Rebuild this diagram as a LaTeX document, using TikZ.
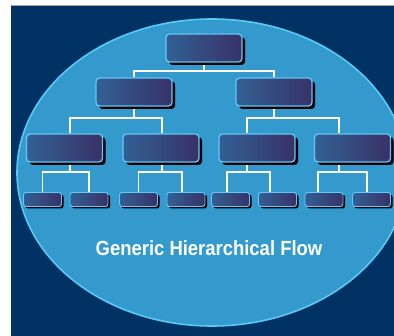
\documentclass[tikz,border=0pt]{standalone}
\usepackage{fontspec}
\setmainfont{Liberation Sans}
\usetikzlibrary{shadows,backgrounds}
\definecolor{navy}{RGB}{0,50,100}
\definecolor{ellfill}{RGB}{52,153,204}
\definecolor{ellline}{RGB}{88,202,245}
\definecolor{boxl}{RGB}{50,96,148}
\definecolor{boxr}{RGB}{56,50,104}
\definecolor{boxline}{RGB}{98,200,245}
\tikzset{
  bigbox/.style={rounded corners=3.5pt, draw=boxline, line width=1.3pt,
    left color=boxl, right color=boxr, minimum width=76pt, minimum height=28pt,
    inner sep=0pt, drop shadow={shadow xshift=3pt, shadow yshift=-3pt, fill=black, opacity=1}},
  smallbox/.style={rounded corners=2.5pt, draw=boxline, line width=0.9pt,
    left color=boxl, right color=boxr, minimum width=38pt, minimum height=14pt,
    inner sep=0pt, drop shadow={shadow xshift=2pt, shadow yshift=-2pt, fill=black, opacity=1}},
  link/.style={draw=white, line width=1.3pt},
}
\begin{document}
\begin{tikzpicture}[x=1pt,y=-1pt]
\useasboundingbox (0,0) rectangle (394,336);
% boxes
\node[bigbox] (n0) at (204,48) {};
\node[bigbox] (n10) at (134,92) {};
\node[bigbox] (n11) at (274,92) {};
\node[bigbox] (n20) at (64.5,148) {};
\node[bigbox] (n21) at (161,148) {};
\node[bigbox] (n22) at (257,148) {};
\node[bigbox] (n23) at (352.5,148) {};
\node[smallbox] (n30) at (42.5,199.5) {};
\node[smallbox] (n31) at (89,199.5) {};
\node[smallbox] (n32) at (138.5,199.5) {};
\node[smallbox] (n33) at (186,199.5) {};
\node[smallbox] (n34) at (230.5,199.5) {};
\node[smallbox] (n35) at (277.5,199.5) {};
\node[smallbox] (n36) at (324,199.5) {};
\node[smallbox] (n37) at (371.5,199.5) {};
\node[anchor=base, text=white, font=\bfseries\fontsize{20.5}{21}\selectfont, xscale=0.9, inner sep=0pt] (title) at (209,256) {Generic Hierarchical Flow};
% junctions
\coordinate (j0) at (204,71);
\coordinate (j10) at (134,118);
\coordinate (j11) at (274,118);
\coordinate (j20) at (70,172);
\coordinate (j21) at (162,172);
\coordinate (j22) at (247,172);
\coordinate (j23) at (339,172);
\begin{scope}[on background layer]
\fill[white] (0,0) rectangle (394,336);
\fill[navy] (11,5) rectangle (394,336);
\draw[gray!70, line width=0.8pt] (11,5) -- (394,5);
\begin{scope}
\clip (11,5) rectangle (394,336);
\draw[fill=ellfill, draw=ellline, line width=1.6pt] (212,172.5) ellipse [x radius=195, y radius=153.5];
\end{scope}
% connectors
\draw[link] (n0.south) -- (j0);
\draw[link] (n10.north) |- (j0) -| (n11.north);
\draw[link] (n10.south) -- (j10);
\draw[link] (n11.south) -- (j11);
\draw[link] ([xshift=5.5pt]n20.north) |- (j10) -| ([xshift=1pt]n21.north);
\draw[link] ([xshift=-10pt]n22.north) |- (j11) -| ([xshift=-13.5pt]n23.north);
\draw[link] ([xshift=5.5pt]n20.south) -- (j20);
\draw[link] ([xshift=1pt]n21.south) -- (j21);
\draw[link] ([xshift=-10pt]n22.south) -- (j22);
\draw[link] ([xshift=-13.5pt]n23.south) -- (j23);
\draw[link] (n30.north) |- (j20) -| (n31.north);
\draw[link] (n32.north) |- (j21) -| ([xshift=-4pt]n33.north);
\draw[link] ([xshift=-3.5pt]n34.north) |- (j22) -| ([xshift=-7.5pt]n35.north);
\draw[link] ([xshift=-6pt]n36.north) |- (j23) -| ([xshift=-4.5pt]n37.north);
\end{scope}
\end{tikzpicture}
\end{document}
